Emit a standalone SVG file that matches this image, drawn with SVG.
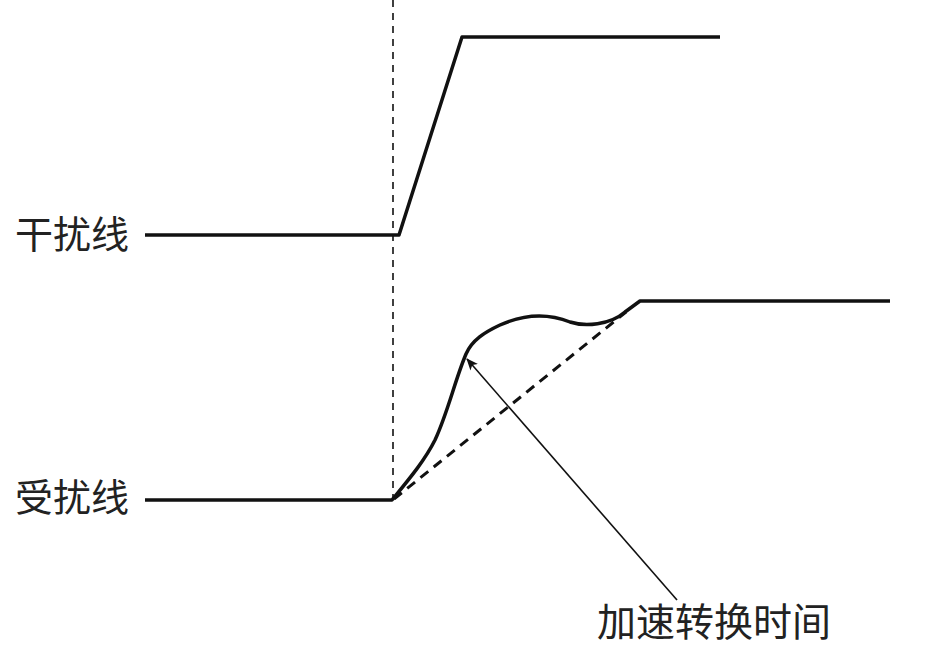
<svg xmlns="http://www.w3.org/2000/svg" width="927" height="650" viewBox="0 0 927 650">
<style>
.lbl{font-family:"Noto Sans CJK SC","Noto Sans",sans-serif;font-size:38px;fill:#222}
.sig{fill:none;stroke:#111;stroke-width:3.5;stroke-linejoin:round}
</style>
<defs>
<marker id="ah" viewBox="0 0 12 10" refX="11" refY="5" markerWidth="12" markerHeight="10" markerUnits="userSpaceOnUse" orient="auto">
<path d="M0,0 L12,5 L0,10 L3,5 Z" fill="#111"/>
</marker>
</defs>
<rect width="927" height="650" fill="#fff"/>
<g id="connectors">
<line x1="393" y1="0" x2="393" y2="500" stroke="#111" stroke-width="1.6" stroke-dasharray="7,6"/>
<line x1="394" y1="499" x2="626" y2="312" stroke="#111" stroke-width="3" stroke-dasharray="10,7"/>
<line x1="677" y1="600" x2="467" y2="359" stroke="#111" stroke-width="1.6" marker-end="url(#ah)"/>
</g>
<g id="interfering">
<polyline class="sig" points="145,235 399,235 462,37 720,37"/>
<text class="lbl" x="15" y="248">干扰线</text>
</g>
<g id="disturbed">
<path class="sig" d="M145,500 L392,500 C410,478 425,460 435,440 C448,412 455,380 466,354 C472,340 485,332 500,325 C520,316 545,312 570,322 C585,327 610,325 625,312 L640,301 L890,301"/>
<text class="lbl" x="15" y="511">受扰线</text>
</g>
<g id="label-accel">
<text class="lbl" x="597" y="636" style="font-size:39px">加速转换时间</text>
</g>
</svg>
